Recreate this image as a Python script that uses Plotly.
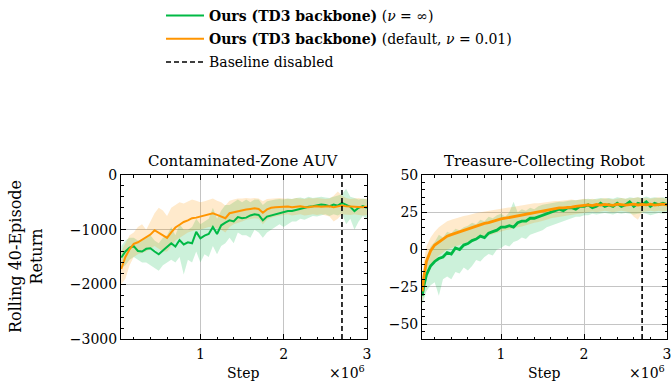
import plotly.graph_objects as go

# ---------------- data ----------------
# Step axis in units of 1e6
steps_auv = [0.05, 0.10, 0.15, 0.20, 0.25, 0.30, 0.35, 0.40, 0.45, 0.50,
             0.55, 0.60, 0.65, 0.70, 0.75, 0.80, 0.85, 0.90, 0.95, 1.00,
             1.05, 1.10, 1.15, 1.20, 1.25, 1.30, 1.35, 1.40, 1.45, 1.50,
             1.55, 1.60, 1.65, 1.70, 1.75, 1.80, 1.85, 1.90, 1.95, 2.00,
             2.05, 2.10, 2.15, 2.20, 2.25, 2.30, 2.35, 2.40, 2.45, 2.50,
             2.55, 2.60, 2.65, 2.70, 2.75, 2.80, 2.85, 2.90, 2.95, 3.00]

# Contaminated-Zone AUV, nu = inf (green)
auv_inf_mean = [-1510, -1400, -1330, -1300, -1390, -1400, -1350, -1340, -1400, -1450,
                -1380, -1320, -1250, -1310, -1190, -1270, -1230, -1250, -1040, -1160,
                -1110, -1080, -950, -1080, -920, -870, -830, -850, -770, -790,
                -780, -740, -720, -730, -830, -760, -740, -720, -700, -690,
                -660, -660, -640, -610, -600, -580, -570, -560, -540, -550,
                -570, -540, -560, -510, -540, -580, -660, -600, -570, -600]
auv_inf_hi = [-1300, -1200, -1150, -1150, -1200, -1200, -1150, -1100, -1200, -1250,
              -1150, -1100, -950, -1100, -900, -1000, -1000, -950, -800, -900,
              -850, -800, -600, -800, -650, -550, -550, -500, -450, -500,
              -450, -500, -450, -450, -550, -480, -460, -450, -440, -450,
              -430, -440, -420, -410, -430, -400, -420, -410, -400, -410,
              -420, -400, -380, -350, -250, -400, -420, -450, -430, -450]
auv_inf_lo = [-1700, -1650, -1550, -1500, -1550, -1600, -1600, -1650, -1700, -1750,
              -1650, -1600, -1550, -1600, -1500, -1820, -1550, -1600, -1400, -1600,
              -1450, -1500, -1300, -1450, -1300, -1250, -1150, -1250, -1050, -1100,
              -1100, -1150, -1000, -1050, -1150, -1050, -1000, -950, -900, -950,
              -900, -850, -850, -800, -820, -780, -750, -760, -740, -720,
              -750, -720, -740, -700, -900, -800, -1000, -850, -750, -800]

# Contaminated-Zone AUV, default nu = 0.01 (orange)
auv_def_mean = [-1720, -1500, -1360, -1260, -1230, -1180, -1130, -1090, -1010, -1060,
                -1110, -1150, -1050, -960, -910, -860, -830, -790, -780, -760,
                -750, -720, -700, -730, -760, -790, -700, -680, -660, -640,
                -630, -620, -610, -620, -690, -630, -600, -590, -580, -580,
                -575, -590, -580, -570, -585, -590, -575, -570, -580, -575,
                -570, -590, -580, -560, -570, -575, -580, -585, -590, -580]
auv_def_hi = [-1400, -1250, -1100, -1050, -950, -900, -1000, -850, -700, -600,
              -650, -750, -600, -550, -500, -520, -480, -450, -470, -500,
              -480, -450, -430, -470, -500, -560, -470, -450, -430, -430,
              -420, -430, -420, -430, -480, -440, -430, -420, -420, -430,
              -430, -440, -420, -430, -440, -420, -430, -420, -430, -440,
              -430, -380, -300, -380, -420, -440, -430, -420, -440, -430]
auv_def_lo = [-2000, -1900, -1650, -1500, -1450, -1420, -1400, -1350, -1300, -1350,
              -1400, -1400, -1300, -1200, -1150, -1100, -1050, -1020, -1000, -1000,
              -980, -950, -950, -980, -1000, -1050, -950, -900, -880, -850,
              -820, -800, -790, -800, -900, -820, -780, -760, -740, -730,
              -720, -740, -730, -720, -740, -730, -720, -730, -720, -740,
              -760, -850, -800, -720, -720, -730, -720, -730, -740, -730]

steps_robot = [0.05, 0.07, 0.10, 0.15, 0.20, 0.25, 0.30, 0.35, 0.40, 0.45, 0.50,
               0.55, 0.60, 0.65, 0.70, 0.75, 0.80, 0.85, 0.90, 0.95, 1.00,
               1.05, 1.10, 1.15, 1.20, 1.25, 1.30, 1.35, 1.40, 1.45, 1.50,
               1.55, 1.60, 1.65, 1.70, 1.75, 1.80, 1.85, 1.90, 1.95, 2.00,
               2.05, 2.10, 2.15, 2.20, 2.25, 2.30, 2.35, 2.40, 2.45, 2.50,
               2.55, 2.60, 2.65, 2.70, 2.75, 2.80, 2.85, 2.90, 2.95, 3.00]

# Treasure-Collecting Robot, nu = inf (green)
robot_inf_mean = [-31, -24, -17, -11, -8, -6, -5, -2, -3, 1, 0,
                  3, 4, 6, 7, 9, 8, 11, 12, 13, 15,
                  15, 16, 15, 18, 19, 19, 21, 21, 22, 23,
                  24, 25, 26, 27, 26, 28, 28, 27, 29, 29,
                  30, 28, 29, 31, 29, 30, 29, 31, 29, 30,
                  32, 29, 31, 30, 32, 29, 31, 30, 31, 30]
robot_inf_hi = [-25, -15, -5, 2, 5, 10, 8, 12, 11, 14, 13,
                15, 16, 18, 17, 20, 19, 22, 21, 23, 24,
                22, 25, 32, 25, 27, 26, 28, 27, 29, 30,
                30.5, 31, 31.5, 32, 32, 32.5, 33, 33, 33.5, 33.5,
                34, 33.5, 34, 34.5, 34, 34.5, 34, 35, 34.5, 34,
                35, 34.5, 35, 34.5, 35.5, 34.5, 35, 34.5, 35, 34.5]
robot_inf_lo = [-37, -33, -28, -24, -22, -31, -20, -18, -20, -15, -16,
                -12, -14, -11, -7, -8, -5, -3, -4, 0, 1,
                3, 2, 5, 6, 8, 7, 10, 11, 12, 13,
                15, 16, 17, 18, 19, 20, 21, 22, 22, 23,
                23, 24, 23.5, 24, 24.5, 24, 23.5, 24.5, 24, 24.5,
                24, 23.5, 24, 24.5, 24, 23, 24, 24.5, 24, 24.5]

# Treasure-Collecting Robot, default nu = 0.01 (orange)
robot_def_mean = [-28, -18, -8, -1, 3, 5, 7, 9, 10, 11, 12,
                  13, 14, 15, 16, 16.5, 17.5, 18, 19, 19.5, 20.5,
                  21, 21.5, 22, 22.5, 23, 24, 24.5, 25, 25.5, 26,
                  26.5, 27, 27.5, 28, 28, 28.5, 28.5, 29, 29.5, 29.5,
                  30, 29.5, 30.2, 29.8, 30.3, 30, 29.6, 30.4, 30, 29.8,
                  30.2, 30.5, 29.9, 30.3, 30, 30.4, 29.8, 30.2, 30.5, 30]
robot_def_hi = [-20, -8, 2, 8, 12, 15, 17, 19, 20, 21, 22,
                22.5, 23, 24, 24.5, 25, 25.5, 26, 26.5, 27, 27.5,
                28, 28.5, 29, 29, 29.5, 30, 30.5, 31, 31, 31.5,
                32, 32, 32.5, 32.5, 33, 33, 33.5, 33, 33.5, 34,
                33.5, 34, 33.5, 34, 34.5, 34, 33.5, 34, 34.5, 34,
                34, 34.5, 35, 34, 34.5, 34, 34.5, 35, 34.5, 34]
robot_def_lo = [-36, -30, -20, -11, -7, -4, -2, 0, 1, 2, 3,
                4, 5, 6, 7, 7.5, 8, 9, 10, 11, 12,
                13, 13.5, 14, 15, 15.5, 16, 17, 18, 18.5, 19,
                20, 21, 21.5, 22, 22.5, 23, 23.5, 24, 24.5, 25,
                25, 25.5, 25, 25.5, 26, 25.5, 25, 25.5, 26, 25.5,
                25, 22, 20, 25, 25.5, 26, 25.5, 26, 25.5, 26]

baseline_disabled_step = 2.70

panel_titles = ["Contaminated-Zone AUV", "Treasure-Collecting Robot"]
name_inf = "<b>Ours (TD3 backbone)</b> (<i>ν</i> = ∞)"
name_def = "<b>Ours (TD3 backbone)</b> (default, <i>ν</i> = 0.01)"
name_base = "Baseline disabled"

# ---------------- styling ----------------
GREEN = "#00B945"
ORANGE = "#FF9500"
GREEN_FILL = "rgba(0,185,69,0.20)"
ORANGE_FILL = "rgba(255,149,0,0.20)"
FONT = "DejaVu Serif"

fig = go.Figure()

panels = [
    ("x", "y", steps_auv, auv_inf_mean, auv_inf_lo, auv_inf_hi,
     auv_def_mean, auv_def_lo, auv_def_hi, 2.0),
    ("x2", "y2", steps_robot, robot_inf_mean, robot_inf_lo, robot_inf_hi,
     robot_def_mean, robot_def_lo, robot_def_hi, 2.8),
]

for i, (xa, ya, st, gm, gl, gh, om, ol, oh, lw) in enumerate(panels):
    first = i == 0
    for lo, hi, fc in ((gl, gh, GREEN_FILL), (ol, oh, ORANGE_FILL)):
        fig.add_trace(go.Scatter(
            x=list(st) + list(st)[::-1], y=list(hi) + list(lo)[::-1],
            xaxis=xa, yaxis=ya, fill="toself", fillcolor=fc,
            line=dict(width=0), mode="lines", hoverinfo="skip",
            showlegend=False))
    fig.add_trace(go.Scatter(x=st, y=gm, xaxis=xa, yaxis=ya, mode="lines",
                             line=dict(color=GREEN, width=lw), name=name_inf,
                             legendgroup="g1", showlegend=first))
    fig.add_trace(go.Scatter(x=st, y=om, xaxis=xa, yaxis=ya, mode="lines",
                             line=dict(color=ORANGE, width=lw), name=name_def,
                             legendgroup="g2", showlegend=first))
    fig.add_shape(type="line", xref=xa, yref=ya + " domain",
                  x0=baseline_disabled_step, x1=baseline_disabled_step, y0=0, y1=1,
                  line=dict(color="black", width=1.6, dash="5px,3px"),
                  name=name_base, showlegend=first, legendgroup="g3")

axis_common = dict(
    showline=True, linecolor="black", linewidth=1, mirror="allticks",
    ticks="inside", ticklen=5, tickwidth=1, tickcolor="black",
    showgrid=True, gridcolor="#c4c4c4", gridwidth=1, zeroline=False,
    tickfont=dict(family=FONT, size=14, color="black"),
)

fig.update_layout(
    width=672, height=381,
    margin=dict(l=121, r=5, t=175, b=42, autoexpand=False),
    plot_bgcolor="white", paper_bgcolor="white",
    font=dict(family=FONT, size=14, color="black"),
    showlegend=True,
    legend=dict(xref="container", yref="container", x=161 / 672, y=1 - 0 / 381,
                xanchor="left", yanchor="top", bgcolor="rgba(0,0,0,0)",
                font=dict(family=FONT, size=14, color="black"),
                itemwidth=38,
                tracegroupgap=2, traceorder="grouped"),
    xaxis=dict(domain=[0, 0.4505], anchor="y", range=[0.047, 3.0],
               tickvals=[1, 2, 3], ticktext=["1", "2", "3"],
               ticklabelstandoff=2,
               minor=dict(ticks="inside", ticklen=2.5, dtick=0.2, tick0=0,
                          tickcolor="black", showgrid=False),
               **axis_common),
    xaxis2=dict(domain=[0.5513, 1], anchor="y2", range=[0.047, 3.0],
                tickvals=[1, 2, 3], ticktext=["1", "2", "3"],
                ticklabelstandoff=2,
                minor=dict(ticks="inside", ticklen=2.5, dtick=0.2, tick0=0,
                           tickcolor="black", showgrid=False),
                **axis_common),
    yaxis=dict(domain=[0, 1], anchor="x", range=[-3000, 0],
               tickvals=[-3000, -2000, -1000, 0],
               minor=dict(ticks="inside", ticklen=2.5, dtick=200, tick0=0,
                          tickcolor="black", showgrid=False),
               **axis_common),
    yaxis2=dict(domain=[0, 1], anchor="x2", range=[-60, 50],
                tickvals=[-50, -25, 0, 25, 50],
                minor=dict(ticks="inside", ticklen=2.5, dtick=5, tick0=0,
                           tickcolor="black", showgrid=False),
                **axis_common),
)

annotations = []
for dom, title in zip(([0, 0.4505], [0.5513, 1]), panel_titles):
    xc = (dom[0] + dom[1]) / 2
    annotations.append(dict(text=title, xref="paper", yref="paper", x=xc, y=1,
                            xanchor="center", yanchor="bottom", yshift=3,
                            showarrow=False, font=dict(family=FONT, size=15)))
    annotations.append(dict(text="Step", xref="paper", yref="paper", x=xc, y=0,
                            xanchor="center", yanchor="top", yshift=-24,
                            showarrow=False, font=dict(family=FONT, size=14)))
    annotations.append(dict(text="×10<sup>6</sup>", xref="paper", yref="paper",
                            x=dom[1], y=0, xanchor="right", yanchor="top",
                            yshift=-22, showarrow=False,
                            font=dict(family=FONT, size=14)))
annotations.append(dict(text="Rolling 40-Episode<br>Return", xref="paper",
                        yref="paper", x=-95 / 546, y=0.5, xanchor="center",
                        yanchor="middle", textangle=-90, showarrow=False,
                        font=dict(family=FONT, size=16)))
fig.update_layout(annotations=annotations)

fig.write_html("out.html", config={"displayModeBar": False},
               post_script="document.body.style.margin='0';document.body.style.overflow='hidden';")
